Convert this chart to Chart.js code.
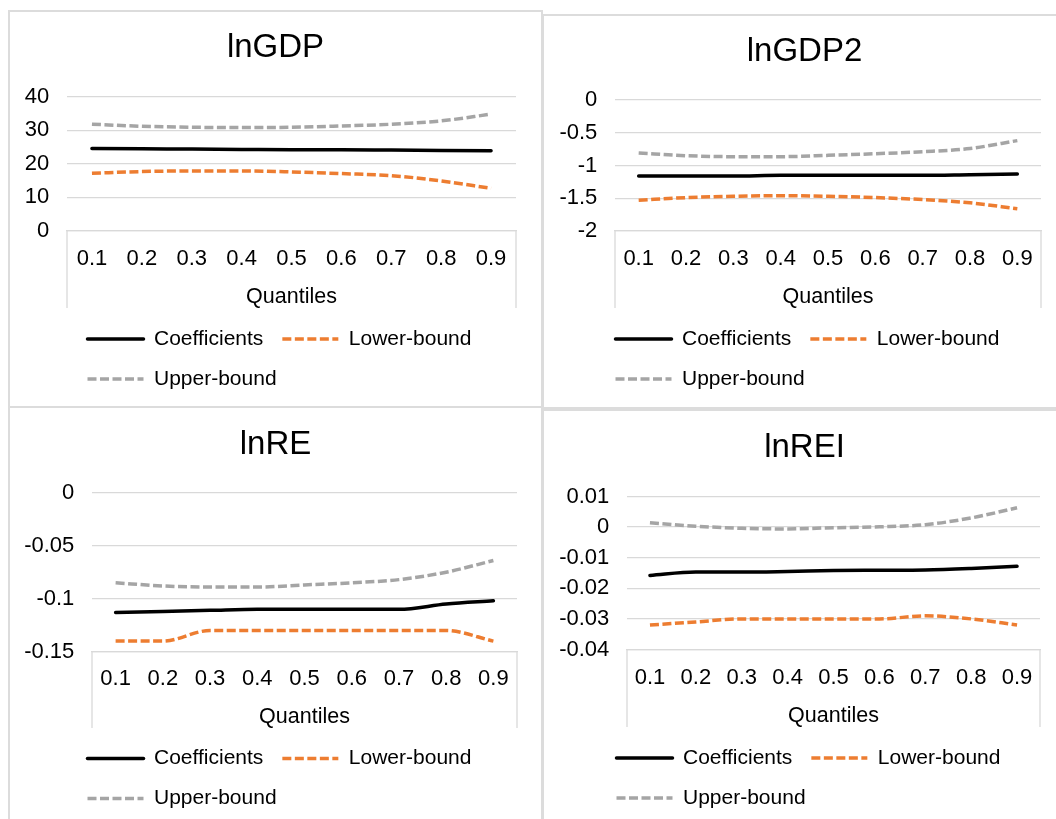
<!DOCTYPE html>
<html>
<head>
<meta charset="utf-8">
<script src="https://cdn.jsdelivr.net/npm/chart.js@4.4.1/dist/chart.umd.min.js"></script>
<style>
  html, body { margin: 0; padding: 0; background: #ffffff; }
  body { width: 1056px; height: 819px; position: relative; overflow: hidden; }
  .frame { position: absolute; box-sizing: border-box; border: 2px solid #dcdcdc; }
  canvas { position: absolute; }
</style>
</head>
<body>
<div class="frame" style="left:8px;top:10px;width:535px;height:398px"></div>
<div class="frame" style="left:542px;top:14px;width:530px;height:395px"></div>
<div class="frame" style="left:8px;top:406px;width:535px;height:430px"></div>
<div class="frame" style="left:542px;top:409px;width:530px;height:430px"></div>

<canvas id="gdp"  width="533" height="396" style="left:9px;top:11px"></canvas>
<canvas id="gdp2" width="513" height="393" style="left:543px;top:15px"></canvas>
<canvas id="re"   width="533" height="412" style="left:9px;top:407px"></canvas>
<canvas id="rei"  width="513" height="409" style="left:543px;top:410px"></canvas>

<script>
// Quantile levels on the category axis
const quantiles = ['0.1', '0.2', '0.3', '0.4', '0.5', '0.6', '0.7', '0.8', '0.9'];
const seriesNames = ['Coefficients', 'Lower-bound', 'Upper-bound'];

// lnGDP
const gdpCoef  = [24.6, 24.5, 24.4, 24.3, 24.2, 24.2, 24.1, 24.0, 23.9];
const gdpLower = [17.2, 17.7, 17.9, 17.9, 17.6, 17.1, 16.5, 14.9, 12.7];
const gdpUpper = [31.8, 31.2, 30.9, 30.8, 30.9, 31.3, 31.8, 32.8, 34.8];
const gdpTicks = { min: 0, max: 40, step: 10 };

// lnGDP2
const gdp2Coef  = [-1.16, -1.16, -1.16, -1.15, -1.15, -1.15, -1.15, -1.14, -1.13];
const gdp2Lower = [-1.53, -1.49, -1.47, -1.46, -1.47, -1.49, -1.52, -1.57, -1.66];
const gdp2Upper = [-0.81, -0.85, -0.865, -0.865, -0.845, -0.82, -0.79, -0.74, -0.62];
const gdp2Ticks = { min: -2, max: 0, step: 0.5 };

// lnRE
const reCoef  = [-0.113, -0.112, -0.111, -0.110, -0.110, -0.110, -0.110, -0.105, -0.102];
const reLower = [-0.14, -0.14, -0.13, -0.13, -0.13, -0.13, -0.13, -0.13, -0.14];
const reUpper = [-0.085, -0.088, -0.089, -0.089, -0.087, -0.085, -0.082, -0.075, -0.064];
const reTicks = { min: -0.15, max: 0, step: 0.05 };

// lnREI
const reiCoef  = [-0.0158, -0.0147, -0.0147, -0.0145, -0.0142, -0.0141, -0.0140, -0.0135, -0.0128];
const reiLower = [-0.032, -0.031, -0.030, -0.030, -0.030, -0.030, -0.029, -0.030, -0.032];
const reiUpper = [0.0014, 0.0003, -0.0004, -0.0006, -0.0002, 0.0001, 0.0008, 0.0030, 0.0063];
const reiTicks = { min: -0.04, max: 0.01, step: 0.01 };

const FONT = "'Liberation Sans', Arial, sans-serif";
const GRID = '#d9d9d9';
const INK = '#000000';
const COLORS = ['#000000', '#ed7d31', '#a5a5a5'];
const DASHES = [[], [9, 3.5], [9, 3.5]];
const CAPS = ['round', 'butt', 'butt'];

// Excel-style frame: vertical edges running from the plot floor down past the axis labels
const axisFrame = {
  id: 'axisFrame',
  beforeDatasetsDraw(chart, args, opts) {
    const { ctx, chartArea } = chart;
    const x = chart.scales.x;
    const end = x.bottom - opts.gap;
    ctx.save();
    ctx.strokeStyle = GRID;
    ctx.lineWidth = 1.3;
    ctx.beginPath();
    ctx.moveTo(chartArea.left, chartArea.bottom);
    ctx.lineTo(chartArea.left, end);
    ctx.moveTo(chartArea.right, chartArea.bottom);
    ctx.lineTo(chartArea.right, end);
    ctx.stroke();
    ctx.restore();
  }
};

// Places the title over the whole panel and the legend block at its own left edge
const blockPlacement = {
  id: 'blockPlacement',
  afterLayout(chart, args, opts) {
    const lg = chart.legend;
    if (lg) {
      const dx = opts.legendLeft - lg.left;
      lg.left += dx;
      lg.right += dx;
    }
    const t = chart.titleBlock;
    if (t) {
      t.left = opts.titleCenter - 200;
      t.right = opts.titleCenter + 200;
    }
  }
};

// Legend samples keep the dataset's own dash pattern and stroke
function legendItems(chart) {
  const items = Chart.defaults.plugins.legend.labels.generateLabels(chart);
  items.forEach(it => {
    const ds = chart.data.datasets[it.datasetIndex];
    it.lineDash = ds.borderDash;
    it.lineCap = ds.borderCapStyle;
    it.lineWidth = ds.borderWidth;
    it.strokeStyle = ds.borderColor;
    it.fillStyle = ds.borderColor;
  });
  return items;
}

function tickText(v) {
  return String(parseFloat(Number(v).toFixed(6)));
}

function makePanel(id, title, coef, lower, upper, ticks, p) {
  const values = [coef, lower, upper];
  const datasets = seriesNames.map((name, i) => ({
    label: name,
    data: values[i],
    borderColor: COLORS[i],
    backgroundColor: COLORS[i],
    borderWidth: 3.5,
    borderDash: DASHES[i],
    borderCapStyle: CAPS[i],
    borderJoinStyle: 'round',
    pointRadius: 0,
    cubicInterpolationMode: 'monotone'
  }));

  return new Chart(document.getElementById(id), {
    type: 'line',
    data: { labels: quantiles, datasets },
    options: {
      responsive: false,
      animation: false,
      events: [],
      layout: { padding: { left: 0, right: p.padRight, top: 0, bottom: p.padBottom } },
      scales: {
        x: {
          offset: true,
          grid: { display: false, drawTicks: false },
          border: { display: true, color: GRID, width: 1.3 },
          ticks: {
            color: INK,
            font: { family: FONT, size: 22 },
            padding: p.xTickPad,
            maxRotation: 0,
            autoSkip: false
          },
          title: {
            display: true,
            text: 'Quantiles',
            color: INK,
            font: { family: FONT, size: 21.5 },
            padding: { top: 0, bottom: p.xTitlePad }
          },
          afterFit(scale) { scale.height = p.xHeight; }
        },
        y: {
          min: ticks.min,
          max: ticks.max,
          grid: { color: GRID, lineWidth: 1.3, drawTicks: false },
          border: { display: false },
          ticks: {
            stepSize: ticks.step,
            color: INK,
            font: { family: FONT, size: 22 },
            padding: 17.7,
            callback: tickText
          },
          afterFit(scale) { scale.width = p.plotLeft; }
        }
      },
      plugins: {
        title: {
          display: true,
          text: title,
          color: INK,
          font: { family: FONT, size: 33, weight: 'normal' },
          padding: { top: p.titleTop, bottom: p.titleBottom }
        },
        legend: {
          position: 'bottom',
          align: 'start',
          labels: {
            usePointStyle: true,
            pointStyle: 'line',
            pointStyleWidth: 56,
            color: INK,
            font: { family: FONT, size: 21 },
            padding: 19,
            generateLabels: legendItems
          }
        },
        tooltip: { enabled: false },
        axisFrame: { gap: p.frameGap },
        blockPlacement: { legendLeft: p.legendLeft, titleCenter: p.titleCenter }
      }
    },
    plugins: [axisFrame, blockPlacement]
  });
}

makePanel('gdp', 'lnGDP', gdpCoef, gdpLower, gdpUpper, gdpTicks, {
  plotLeft: 58, padRight: 26, padBottom: 7.5, titleTop: 17.5, titleBottom: 28.6,
  xHeight: 78.5, xTickPad: 14.6, xTitlePad: -0.6, legendLeft: 59.5, titleCenter: 266.5, frameGap: 1.5
});
makePanel('gdp2', 'lnGDP2', gdp2Coef, gdp2Lower, gdp2Upper, gdp2Ticks, {
  plotLeft: 72, padRight: 15, padBottom: 8.5, titleTop: 16.9, titleBottom: 28.5,
  xHeight: 78.5, xTickPad: 14.6, xTitlePad: -0.8, legendLeft: 53.5, titleCenter: 261.5, frameGap: 1.5
});
makePanel('re', 'lnRE', reCoef, reLower, reUpper, reTicks, {
  plotLeft: 83, padRight: 25, padBottom: 0, titleTop: 17.9, titleBottom: 28.2,
  xHeight: 77.3, xTickPad: 13.6, xTitlePad: -0.8, legendLeft: 59.5, titleCenter: 266.5, frameGap: 1
});
makePanel('rei', 'lnREI', reiCoef, reiLower, reiUpper, reiTicks, {
  plotLeft: 84, padRight: 16, padBottom: 0.5, titleTop: 18.5, titleBottom: 28.4,
  xHeight: 79, xTickPad: 14.8, xTitlePad: -0.8, legendLeft: 54.5, titleCenter: 261.5, frameGap: 1.5
});
</script>
</body>
</html>
